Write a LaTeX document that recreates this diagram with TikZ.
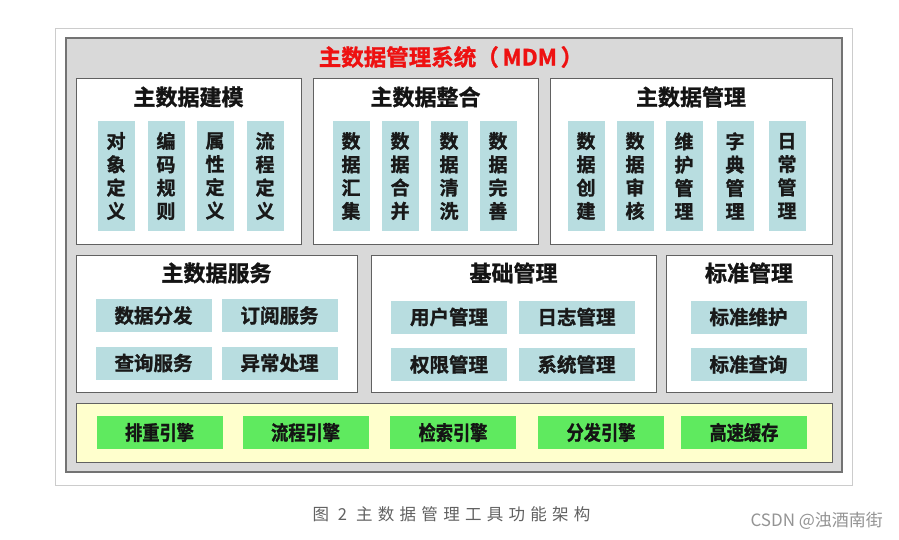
\documentclass[tikz,border=0pt]{standalone}
\usepackage{fontspec}
\setmainfont{Noto Sans CJK SC}[BoldFont={Noto Sans CJK SC Bold},BoldFeatures={FakeBold=1.3}]
\newfontfamily\engfont{Noto Sans CJK SC}[BoldFont={Noto Sans CJK SC Bold},BoldFeatures={FakeBold=1.3},FakeStretch=0.86]
\newfontfamily\capfont{Noto Sans CJK SC}[LetterSpace=32]
\usetikzlibrary{positioning}

\definecolor{framegray}{HTML}{D9D9D9}
\definecolor{pillarblue}{HTML}{B8DDE0}
\definecolor{engreen}{HTML}{5FEA5F}
\definecolor{barcream}{HTML}{FFFFCD}
\definecolor{titlered}{HTML}{EE1111}

\tikzset{
  panel/.style={draw=black!62, fill=white, line width=1pt, inner sep=0pt},
  head/.style={font=\fontsize{22}{24}\selectfont\bfseries, text=black!92},
  pillar/.style={fill=pillarblue, minimum width=37pt, minimum height=110pt, inner sep=0pt,
    align=center, font=\fontsize{19}{23.3}\selectfont\bfseries, text=black!90},
  cell/.style={fill=pillarblue, minimum width=116pt, minimum height=33pt, inner sep=0pt,
    font=\fontsize{19.5}{22}\selectfont\bfseries, text=black!90},
  engine/.style={fill=engreen, minimum width=126pt, minimum height=33pt, inner sep=0pt,
    font=\engfont\fontsize{20}{22}\selectfont\bfseries, text=black!92}
}

\begin{document}
\begin{tikzpicture}[x=1pt, y=-1pt]
  \useasboundingbox (0,0) rectangle (899,539);
  \fill[white] (0,0) rectangle (899,539);

  % frames
  \draw[black!20, fill=white, line width=1pt] (55,28) rectangle (852,485);
  \draw[black!55, fill=framegray, line width=1.4pt] (66,38) rectangle (842,472);
  \node[text=titlered, font=\fontsize{22.5}{24}\selectfont\bfseries] (title) at (451,57) {主数据管理系统（\,MDM\,）};

  % first row
  \node[panel, minimum width=225pt, minimum height=166pt] (model) at (188.5,161) {};
  \node[panel, minimum width=225pt, minimum height=166pt] (integ) at (425.5,161) {};
  \node[panel, minimum width=282pt, minimum height=166pt] (manage) at (691,161) {};
  \node[head] (modelhead) at (188.5,97) {主数据建模};
  \node[head] (integhead) at (425.5,97) {主数据整合};
  \node[head] (managehead) at (691,97) {主数据管理};

  \node[pillar] (m1) at (116,176) {对\\象\\定\\义};
  \node[pillar] (m2) at (166,176) {编\\码\\规\\则};
  \node[pillar] (m3) at (215,176) {属\\性\\定\\义};
  \node[pillar] (m4) at (265,176) {流\\程\\定\\义};

  \node[pillar] (i1) at (351,176) {数\\据\\汇\\集};
  \node[pillar] (i2) at (400,176) {数\\据\\合\\并};
  \node[pillar] (i3) at (449,176) {数\\据\\清\\洗};
  \node[pillar] (i4) at (498,176) {数\\据\\完\\善};

  \node[pillar] (g1) at (586,176) {数\\据\\创\\建};
  \node[pillar] (g2) at (635,176) {数\\据\\审\\核};
  \node[pillar] (g3) at (684,176) {维\\护\\管\\理};
  \node[pillar] (g4) at (735,176) {字\\典\\管\\理};
  \node[pillar] (g5) at (787,176) {日\\常\\管\\理};

  % second row
  \node[panel, minimum width=281pt, minimum height=137pt] (service) at (216.5,323.5) {};
  \node[panel, minimum width=285pt, minimum height=137pt] (base) at (513.5,323.5) {};
  \node[panel, minimum width=166pt, minimum height=137pt] (standard) at (749,323.5) {};
  \node[head] (servicehead) at (216.5,273) {主数据服务};
  \node[head] (basehead) at (513.5,273) {基础管理};
  \node[head] (standardhead) at (749,273) {标准管理};

  \node[cell] (s1) at (153.5,315.5) {数据分发};
  \node[cell] (s2) at (279.5,315.5) {订阅服务};
  \node[cell] (s3) at (153.5,363) {查询服务};
  \node[cell] (s4) at (279.5,363) {异常处理};

  \node[cell] (b1) at (449,317) {用户管理};
  \node[cell] (b2) at (576.5,317) {日志管理};
  \node[cell] (b3) at (449,364.5) {权限管理};
  \node[cell] (b4) at (576.5,364.5) {系统管理};

  \node[cell] (t1) at (748.5,317) {标准维护};
  \node[cell] (t2) at (748.5,364.5) {标准查询};

  % engines
  \node[panel, fill=barcream, minimum width=756pt, minimum height=59pt] (enginebar) at (454,432.5) {};
  \node[engine] (e1) at (159.5,432.5) {排重引擎};
  \node[engine] (e2) at (305.5,432.5) {流程引擎};
  \node[engine] (e3) at (453,432.5) {检索引擎};
  \node[engine] (e4) at (601,432.5) {分发引擎};
  \node[engine] (e5) at (744,432.5) {高速缓存};

  % caption and mark
  \node[anchor=west, text=black!62, font=\capfont\fontsize{16.5}{18}\selectfont] (caption) at (309,514) {图 2 主数据管理工具功能架构};
  \node[anchor=west, text=black!42, font=\fontsize{17}{18}\selectfont] (mark) at (747,521) {CSDN @浊酒南街};
\end{tikzpicture}
\end{document}
